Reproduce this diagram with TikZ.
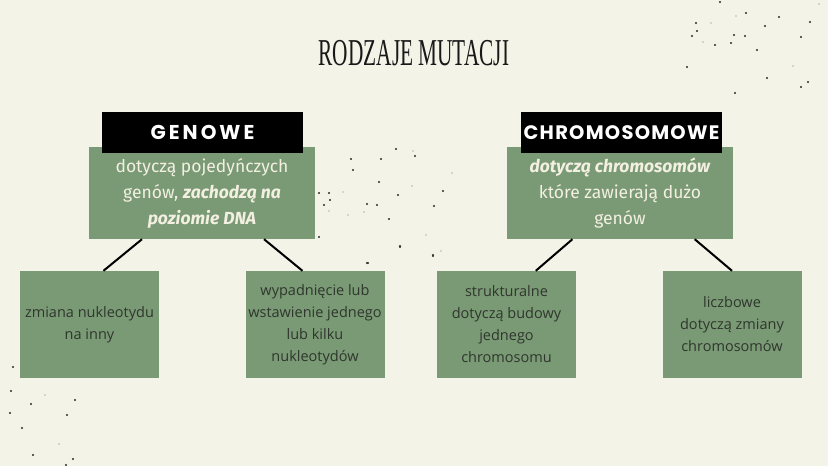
\documentclass[tikz,border=0pt]{standalone}
\usepackage{fontspec}
\usepackage{graphicx}
\setmainfont{Fira Sans}
\newfontfamily\titlefont{Liberation Serif}
\newfontfamily\hdrfonta{Poppins}[LetterSpace=15]
\newfontfamily\hdrfontb{Poppins}[LetterSpace=6.4]
\newfontfamily\lowfont{Open Sans}
\usetikzlibrary{calc}
\definecolor{bgc}{HTML}{F4F3E7}
\definecolor{boxg}{HTML}{7A9A75}
\definecolor{lighttxt}{HTML}{F3F0E2}
\definecolor{darktxt}{HTML}{2F362D}
\definecolor{dotd}{HTML}{2A2A2A}
\definecolor{dotl}{HTML}{B8B8AE}
\begin{document}
\begin{tikzpicture}[x=1pt,y=-1pt,
  greenbox/.style={fill=boxg,draw=none,inner sep=0pt,align=center,text=lighttxt,
    font=\fontsize{17.5}{26}\selectfont},
  lowbox/.style={fill=boxg,draw=none,inner sep=0pt,align=center,text=darktxt,
    minimum width=139pt,minimum height=107pt,font=\lowfont\fontsize{14.5}{22}\selectfont},
  hdrbox/.style={fill=black,draw=none,inner sep=0pt,text=white,minimum height=41pt},
  link/.style={draw=black,line width=2pt}]
\fill[bgc] (0,0) rectangle (828,466);
\useasboundingbox (0,0) rectangle (828,466);
% speckles
\foreach \x/\y in {720/2,746/13,779/17,810/22,696/23,697/31,692/36,734/35,745/36,765/26,801/37,715/45,731/43,757/50,687/67,767/78,808/82,801/87,735/93,
  306/165,351/159,353/170,396/149,381/159,415/156,379/182,329/193,319/193,330/200,324/205,367/204,377/205,398/195,443/191,434/206,389/219,319/237,400/247,433/256,367/263,
  11/391,31/404,75/400,10/413,67/415,22/428,33/455,73/459,66/465,13/367,400/246,368/263,433/255}
  \fill[dotd] (\x,\y) circle (1.1pt);
\foreach \x/\y in {711/23,793/66,819/4,413/151,343/192,329/211,412/186,364/212,348/215,426/235,441/251,452/173,45/395,59/444,736/16,703/42}
  \fill[dotl] (\x,\y) circle (0.9pt);
% title
\node[anchor=base,inner sep=0pt,text=black!90] (title) at (414,65)
  {\scalebox{0.56}[1]{\titlefont\fontsize{38}{38}\selectfont RODZAJE MUTACJI}};
% green boxes
\node[greenbox,minimum width=226pt,minimum height=92pt] (g1) at (202,193)
  {dotyczą pojedyńczych\\genów, \textit{\textbf{zachodzą na}}\\\textit{\textbf{poziomie DNA}}};
\node[greenbox,minimum width=226pt,minimum height=92pt] (g2) at (620,193)
  {\textit{\textbf{dotyczą chromosomów}}\\które zawierają dużo\\genów};
% header boxes
\node[hdrbox,minimum width=201pt,font=\hdrfonta\bfseries\fontsize{20}{20}\selectfont] (h1) at (202.5,132.5) {GENOWE};
\node[hdrbox,minimum width=201pt,font=\hdrfontb\bfseries\fontsize{19.5}{20}\selectfont] (h2) at (621.5,132.5) {CHROMOSOMOWE};
% lower boxes
\node[lowbox] (a) at (89.5,324.5) {zmiana nukleotydu\\na inny};
\node[lowbox] (b) at (315,324.5) {wypadnięcie lub\\wstawienie jednego\\lub kilku\\nukleotydów};
\node[lowbox] (c) at (506.5,324.5) {strukturalne\\dotyczą budowy\\jednego\\chromosomu};
\node[lowbox] (d) at (732,324.5) {liczbowe\\dotyczą zmiany\\chromosomów};
% connectors
\draw[link] ($(g1.south west)!0.235!(g1.south east)$) -- ($(a.north west)!0.6!(a.north east)$);
\draw[link] ($(g1.south west)!0.774!(g1.south east)$) -- ($(b.north west)!0.41!(b.north east)$);
\draw[link] ($(g2.south west)!0.29!(g2.south east)$) -- ($(c.north west)!0.71!(c.north east)$);
\draw[link] ($(g2.south west)!0.83!(g2.south east)$) -- ($(d.north west)!0.5!(d.north east)$);
\end{tikzpicture}
\end{document}
